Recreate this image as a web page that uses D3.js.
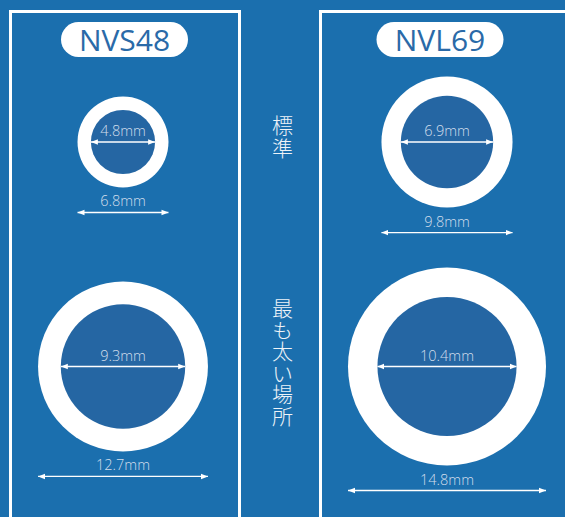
<!DOCTYPE html>
<html>
<head>
<meta charset="utf-8">
<script src="https://cdn.jsdelivr.net/npm/d3@7"></script>
<style>
  html, body { margin: 0; padding: 0; background: #1b6fae; }
  svg { display: block; }
</style>
</head>
<body>
<svg id="chart" width="565" height="517"></svg>
<script>
var models = ['NVS48', 'NVL69'];
var rows = ['標準', '最も太い場所'];
var standardInner = [4.8, 6.9];
var standardOuter = [6.8, 9.8];
var thickestInner = [9.3, 10.4];
var thickestOuter = [12.7, 14.8];

var svg = d3.select('#chart');
var W = 565, H = 517;

svg.append('rect').attr('width', W).attr('height', H).attr('fill', '#1b6fae');

var defs = svg.append('defs');
['start', 'end'].forEach(function(k) {
  defs.append('marker')
    .attr('id', 'arrow-' + k)
    .attr('viewBox', '0 0 10 10')
    .attr('refX', k == 'end' ? 10 : 0)
    .attr('refY', 5)
    .attr('markerUnits', 'userSpaceOnUse')
    .attr('markerWidth', 7)
    .attr('markerHeight', 7)
    .attr('orient', 'auto')
    .append('path')
    .attr('d', k == 'end' ? 'M0,1L10,5L0,9Z' : 'M10,1L0,5L10,9Z')
    .attr('fill', '#fff');
});

// column centre of the rings, row centre of the rings
var x = d3.scalePoint().domain(models).range([123, 447]);
var y = d3.scalePoint().domain(rows).range([142, 366.5]);
// mm -> px (diameter)
var d = d3.scaleLinear().domain([0, 14.8]).range([0, 198]);

// panel frames
var panels = [{ x0: 10.5, x1: 239.5 }, { x0: 320.5, x1: 600 }];
panels.forEach(function(p) {
  svg.append('rect')
    .attr('x', p.x0).attr('y', 11.5)
    .attr('width', p.x1 - p.x0).attr('height', 560)
    .attr('fill', 'none').attr('stroke', '#fff').attr('stroke-width', 3);
});

// model name pills
var pillCx = [124.5, 440];
models.forEach(function(m, i) {
  var g = svg.append('g').attr('transform', 'translate(' + pillCx[i] + ',39.5)');
  g.append('rect')
    .attr('x', -63.5).attr('y', -17.5)
    .attr('width', 127).attr('height', 35)
    .attr('rx', 17.5).attr('fill', '#fff');
  g.append('text')
    .attr('text-anchor', 'middle')
    .attr('y', 11)
    .attr('font-family', '"Liberation Sans Narrow", "Open Sans", sans-serif')
    .attr('font-size', 30)
    .attr('fill', '#2a6aa8')
    .text(m);
});

var rings = [];
models.forEach(function(m, i) {
  rings.push({ model: m, row: rows[0], inner: standardInner[i], outer: standardOuter[i] });
  rings.push({ model: m, row: rows[1], inner: thickestInner[i], outer: thickestOuter[i] });
});

var ring = svg.selectAll('.ring')
  .data(rings)
  .enter().append('g')
  .attr('class', 'ring')
  .attr('transform', function(r) {
    return 'translate(' + x(r.model) + ',' + y(r.row) + ')';
  });

ring.append('circle')
  .attr('r', function(r) { return d(r.outer) / 2; })
  .attr('fill', '#fff');

ring.append('circle')
  .attr('r', function(r) { return d(r.inner) / 2; })
  .attr('fill', '#2566a3');

function arrow(sel, half, yy) {
  sel.append('line')
    .attr('x1', -half).attr('x2', half)
    .attr('y1', yy).attr('y2', yy)
    .attr('stroke', '#fff').attr('stroke-width', 1.3)
    .attr('marker-start', 'url(#arrow-start)')
    .attr('marker-end', 'url(#arrow-end)');
}

ring.each(function(r) {
  var g = d3.select(this);
  var ri = d(r.inner) / 2, ro = d(r.outer) / 2;
  arrow(g, ri, 0);
  g.append('text')
    .attr('class', 'mm')
    .attr('y', -6)
    .text(r.inner + 'mm');
  var ay = ro + 25;
  arrow(g, ro, ay);
  g.append('text')
    .attr('class', 'mm')
    .attr('y', ay - 6)
    .text(r.outer + 'mm');
});

svg.selectAll('text.mm')
  .attr('text-anchor', 'middle')
  .attr('font-family', '"Open Sans", sans-serif')
  .attr('font-weight', 300)
  .attr('font-size', 14.5)
  .attr('fill', '#d2deec');

// vertical row labels
var spacing = [2.5, 0.5];
rows.forEach(function(lbl, i) {
  svg.append('text')
    .attr('x', 282.5)
    .attr('y', y(lbl) - 4)
    .attr('text-anchor', 'middle')
    .style('writing-mode', 'vertical-rl')
    .style('letter-spacing', spacing[i] + 'px')
    .attr('font-family', '"Noto Sans CJK JP", sans-serif')
    .attr('font-weight', 300)
    .attr('font-size', 21)
    .attr('fill', '#eef3f8')
    .text(lbl);
});
</script>
</body>
</html>
